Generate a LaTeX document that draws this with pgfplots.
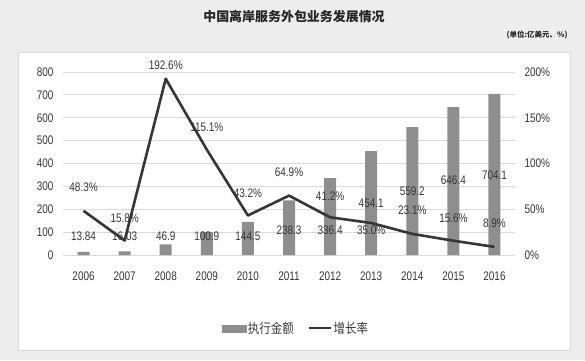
\documentclass[border=0pt]{standalone}
\usepackage{pgfplots}
\pgfplotsset{compat=1.18}
\usepackage{fontspec}
\setmainfont{Liberation Sans}[FakeStretch=0.8]
\newfontfamily\cjk{Noto Sans CJK SC}
\newfontfamily\cjkn{Noto Sans CJK SC}[FakeStretch=0.85]
\definecolor{bg}{HTML}{EDEDED}
\definecolor{barc}{HTML}{8E8E8E}
\definecolor{lnc}{HTML}{363636}
\definecolor{gridc}{HTML}{D9D9D9}
\definecolor{txt}{HTML}{383838}
\begin{document}
\begin{tikzpicture}[x=1bp,y=1bp]
\useasboundingbox (0,0) rectangle (585,360);
\fill[bg] (0,0) rectangle (585,360);
\fill[white, draw=gridc, line width=1bp] (18,10) rectangle (570,308);
\node[font=\cjk\bfseries\fontsize{13}{15}\selectfont, text=black!85] at (294,343) {中国离岸服务外包业务发展情况};
\node[font=\cjk\bfseries\fontsize{7.5}{9}\selectfont, anchor=east, text=black!85] at (571,325) {(单位:亿美元、\%)};
\begin{axis}[at={(63bp,105bp)}, anchor=south west, scale only axis,
  width=452bp, height=183bp,
  xmin=-0.5, xmax=10.5, ymin=0, ymax=800,
  ytick={0,100,...,800},
  xtick={0,...,10},
  xticklabels={2006,2007,2008,2009,2010,2011,2012,2013,2014,2015,2016},
  /pgf/number format/assume math mode=true,
  axis line style={draw=none}, major tick length=0pt,
  ymajorgrids, grid style={gridc, line width=1bp},
  tick label style={font=\fontsize{12.5}{14}\selectfont, text=txt},
  yticklabel style={xshift=-6bp},
  xticklabel style={yshift=-13bp},
  legend style={at={(0.515,-0.40)}, anchor=center, draw=none, fill=none,
    legend columns=2, font=\cjkn\fontsize{13.5}{15}\selectfont, text=txt,
    /tikz/every even column/.append style={column sep=12bp}},
  clip=false,
]
\addlegendimage{legend image code/.code={\fill[barc] (0bp,-3.5bp) rectangle (24bp,3.5bp);}}
\addlegendentry{执行金额}
\addlegendimage{legend image code/.code={\draw[lnc, line width=2bp] (0bp,0bp) -- (22bp,0bp);}}
\addlegendentry{增长率}
\addplot[ybar, bar width=12bp, fill=barc, draw=none, forget plot] coordinates {
 (0,13.84) (1,16.03) (2,46.9) (3,100.9) (4,144.5) (5,238.3) (6,336.4) (7,454.1) (8,559.2) (9,646.4) (10,704.1)};
\addplot[draw=none, mark=none, forget plot, nodes near coords, point meta=explicit symbolic,
  nodes near coords style={anchor=center, font=\fontsize{12.5}{14}\selectfont, text=txt}]
 table[meta=label] {
x y label
0 80 13.84
1 80 16.03
2 80 46.9
3 80 100.9
4 80 144.5
5 109 238.3
6 109 336.4
7 227 454.1
8 277 559.2
9 325 646.4
10 350 704.1
};
\end{axis}
\begin{axis}[at={(63bp,105bp)}, anchor=south west, scale only axis,
  width=452bp, height=183bp,
  xmin=-0.5, xmax=10.5, ymin=0, ymax=200,
  axis y line*=right, axis x line=none,
  ytick={0,50,...,200},
  yticklabel={\pgfmathprintnumber{\tick}\%},
  /pgf/number format/assume math mode=true,
  axis line style={draw=none}, major tick length=0pt,
  tick label style={font=\fontsize{12.5}{14}\selectfont, text=txt},
  yticklabel style={xshift=6bp},
  clip=false,
]
\addplot[lnc, line width=2.6bp, line join=round] coordinates {
 (0,48.3) (1,15.8) (2,192.6) (3,115.1) (4,43.2) (5,64.9) (6,41.2) (7,35.0) (8,23.1) (9,15.6) (10,8.9)};
\addplot[draw=none, mark=none, nodes near coords, point meta=explicit symbolic,
  nodes near coords style={anchor=center, font=\fontsize{12.5}{14}\selectfont, text=txt}]
 table[meta=label] {
x y label
0 74 48.3\%
1 40 15.8\%
2 207 192.6\%
3 140 115.1\%
4 68 43.2\%
5 90 64.9\%
6 64 41.2\%
7 27 35.0\%
8 49 23.1\%
9 40 15.6\%
10 35 8.9\%
};
\end{axis}
\end{tikzpicture}
\end{document}
